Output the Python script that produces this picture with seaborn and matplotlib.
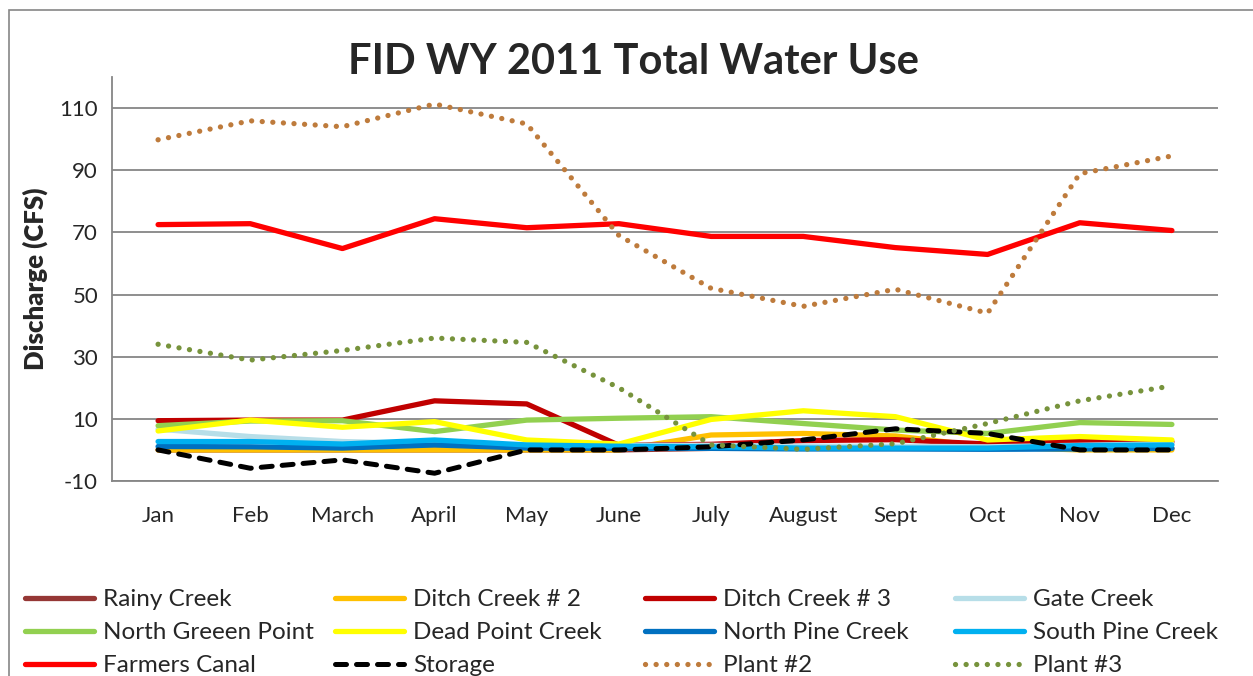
import matplotlib
matplotlib.use('Agg')
import matplotlib.pyplot as plt
import seaborn as sns
import pandas as pd
from matplotlib.patches import Rectangle
from matplotlib.lines import Line2D

# data
months = ['Jan', 'Feb', 'March', 'April', 'May', 'June', 'July', 'August', 'Sept', 'Oct', 'Nov', 'Dec']
rainy_creek = [0, 0, 0, 0, 0, 0, 0.5, 0.5, 0.5, 0.5, 0.5, 0.5]
ditch_creek_2 = [0, 0, 0, 0, 0, 0, 4.8, 5.3, 4.5, 1.0, 0, 0]
ditch_creek_3 = [9.4, 9.6, 9.6, 15.8, 14.8, 1.5, 1.8, 3.0, 3.3, 1.9, 2.9, 2.6]
gate_creek = [6.7, 4.3, 2.7, 2.0, 1.5, 1.5, 1.5, 1.2, 1.2, 1.0, 1.5, 2.0]
north_green_point = [7.8, 9.3, 9.4, 5.9, 9.6, 10.2, 10.7, 8.5, 6.4, 5.3, 8.8, 8.2]
dead_point_creek = [6.1, 9.6, 7.3, 9.1, 3.2, 1.9, 9.8, 12.6, 10.7, 3.2, 4.3, 3.2]
north_pine_creek = [1.1, 1.0, 0.6, 1.6, 0.6, 0.5, 0.5, 0.3, 0.3, 0.2, 0.3, 0.5]
south_pine_creek = [2.7, 2.7, 1.9, 3.2, 1.6, 1.2, 1.0, 0.6, 0.6, 0.6, 1.4, 1.6]
farmers_canal = [72.5, 72.8, 64.8, 74.4, 71.5, 72.8, 68.7, 68.7, 65.1, 62.9, 73.1, 70.6]
storage = [0, -5.9, -3.2, -7.5, 0, 0, 1.0, 3.2, 6.8, 5.3, 0, 0]
plant_2 = [99.8, 105.9, 104.0, 111.3, 104.9, 69.0, 52.0, 46.2, 51.7, 44.0, 88.9, 94.6]
plant_3 = [34.0, 28.9, 32.0, 36.0, 34.6, 20.0, 1.6, 0.2, 2.0, 8.5, 15.8, 20.6]

series = [
    ('Rainy Creek', rainy_creek, '#953735', 'solid'),
    ('Ditch Creek # 2', ditch_creek_2, '#FFC000', 'solid'),
    ('Ditch Creek # 3', ditch_creek_3, '#C00000', 'solid'),
    ('Gate Creek', gate_creek, '#B7DEE8', 'solid'),
    ('North Greeen Point', north_green_point, '#92D050', 'solid'),
    ('Dead Point Creek', dead_point_creek, '#FFFF00', 'solid'),
    ('North Pine Creek', north_pine_creek, '#0070C0', 'solid'),
    ('South Pine Creek', south_pine_creek, '#00B0F0', 'solid'),
    ('Farmers Canal', farmers_canal, '#FF0000', 'solid'),
    ('Storage', storage, '#000000', 'dash'),
    ('Plant #2', plant_2, '#BE7B3C', 'dot'),
    ('Plant #3', plant_3, '#77933C', 'dot'),
]
styles = {'solid': '-', 'dash': (0, (2.2, 2.0)), 'dot': (0, (0.01, 2.0))}

sns.set_style('white')
plt.rcParams['font.family'] = ['Lato', 'DejaVu Sans']
plt.rcParams['axes.unicode_minus'] = False

fig = plt.figure(figsize=(12.53, 6.76), dpi=100)
ax = fig.add_axes([112 / 1253, 1 - 481 / 676, (1218 - 112) / 1253, (481 - 77) / 676])

x = list(range(len(months)))
handles = {}
for name, vals, color, style in series:
    df = pd.DataFrame({'month': x, 'value': vals})
    lw = 3.6 if style == 'dash' else 3.8
    sns.lineplot(data=df, x='month', y='value', color=color, lw=lw, ax=ax,
                 legend=False)
    line = ax.lines[-1]
    line.set_linestyle(styles[style])
    line.set_dash_capstyle('round')
    handles[name] = Line2D([], [], color=color, lw=lw, linestyle=styles[style],
                           dash_capstyle='round', solid_capstyle='round')

ax.set_xlim(-0.5, 11.5)
ax.set_ylim(-10, 120)
ax.set_yticks(range(-10, 111, 20))
ax.set_xticks([i - 0.5 for i in range(13)])
ax.set_xticklabels([])
ax.set_xticks(x, minor=True)
ax.set_xticklabels(months, minor=True)
ax.tick_params(axis='x', which='minor', length=0, pad=18, labelsize=16)
ax.tick_params(axis='x', which='major', length=6, width=1.2, color='#868686', direction='out')
ax.tick_params(axis='y', length=6, width=1.2, color='#868686', direction='out', labelsize=16, pad=4)
ax.yaxis.grid(True, color='#868686', lw=1.3)
ax.set_axisbelow(True)
for s in ['top', 'right']:
    ax.spines[s].set_visible(False)
for s in ['left', 'bottom']:
    ax.spines[s].set_color('#868686')
    ax.spines[s].set_linewidth(1.3)
ax.set_xlabel('')
ax.set_ylabel('Discharge (CFS)', fontsize=18.5, fontweight='heavy', labelpad=8)

fig.text(633 / 1253, 1 - 62 / 676, 'FID WY 2011 Total Water Use', ha='center', va='center',
         fontsize=30, fontweight='bold')

# outer chart border
fig.patches.append(Rectangle((9 / 1253, -0.1), 1.2, 1 - 10 / 676 + 0.1, transform=fig.transFigure,
                             fill=False, edgecolor='#868686', lw=1.2))

# legend in four columns, row order as in Excel
names = [s[0] for s in series]
col_x = [25, 335, 645, 955]
for c in range(4):
    col_names = [names[c], names[c + 4], names[c + 8]]
    fig.legend([handles[n] for n in col_names], col_names, loc='upper left',
               bbox_to_anchor=(col_x[c] / 1253, 1 - 589 / 676), frameon=False,
               fontsize=17.5, handlelength=2.85, handletextpad=0.35, labelspacing=0.5,
               borderpad=0, borderaxespad=0)

fig.savefig('out.png', dpi=100)
